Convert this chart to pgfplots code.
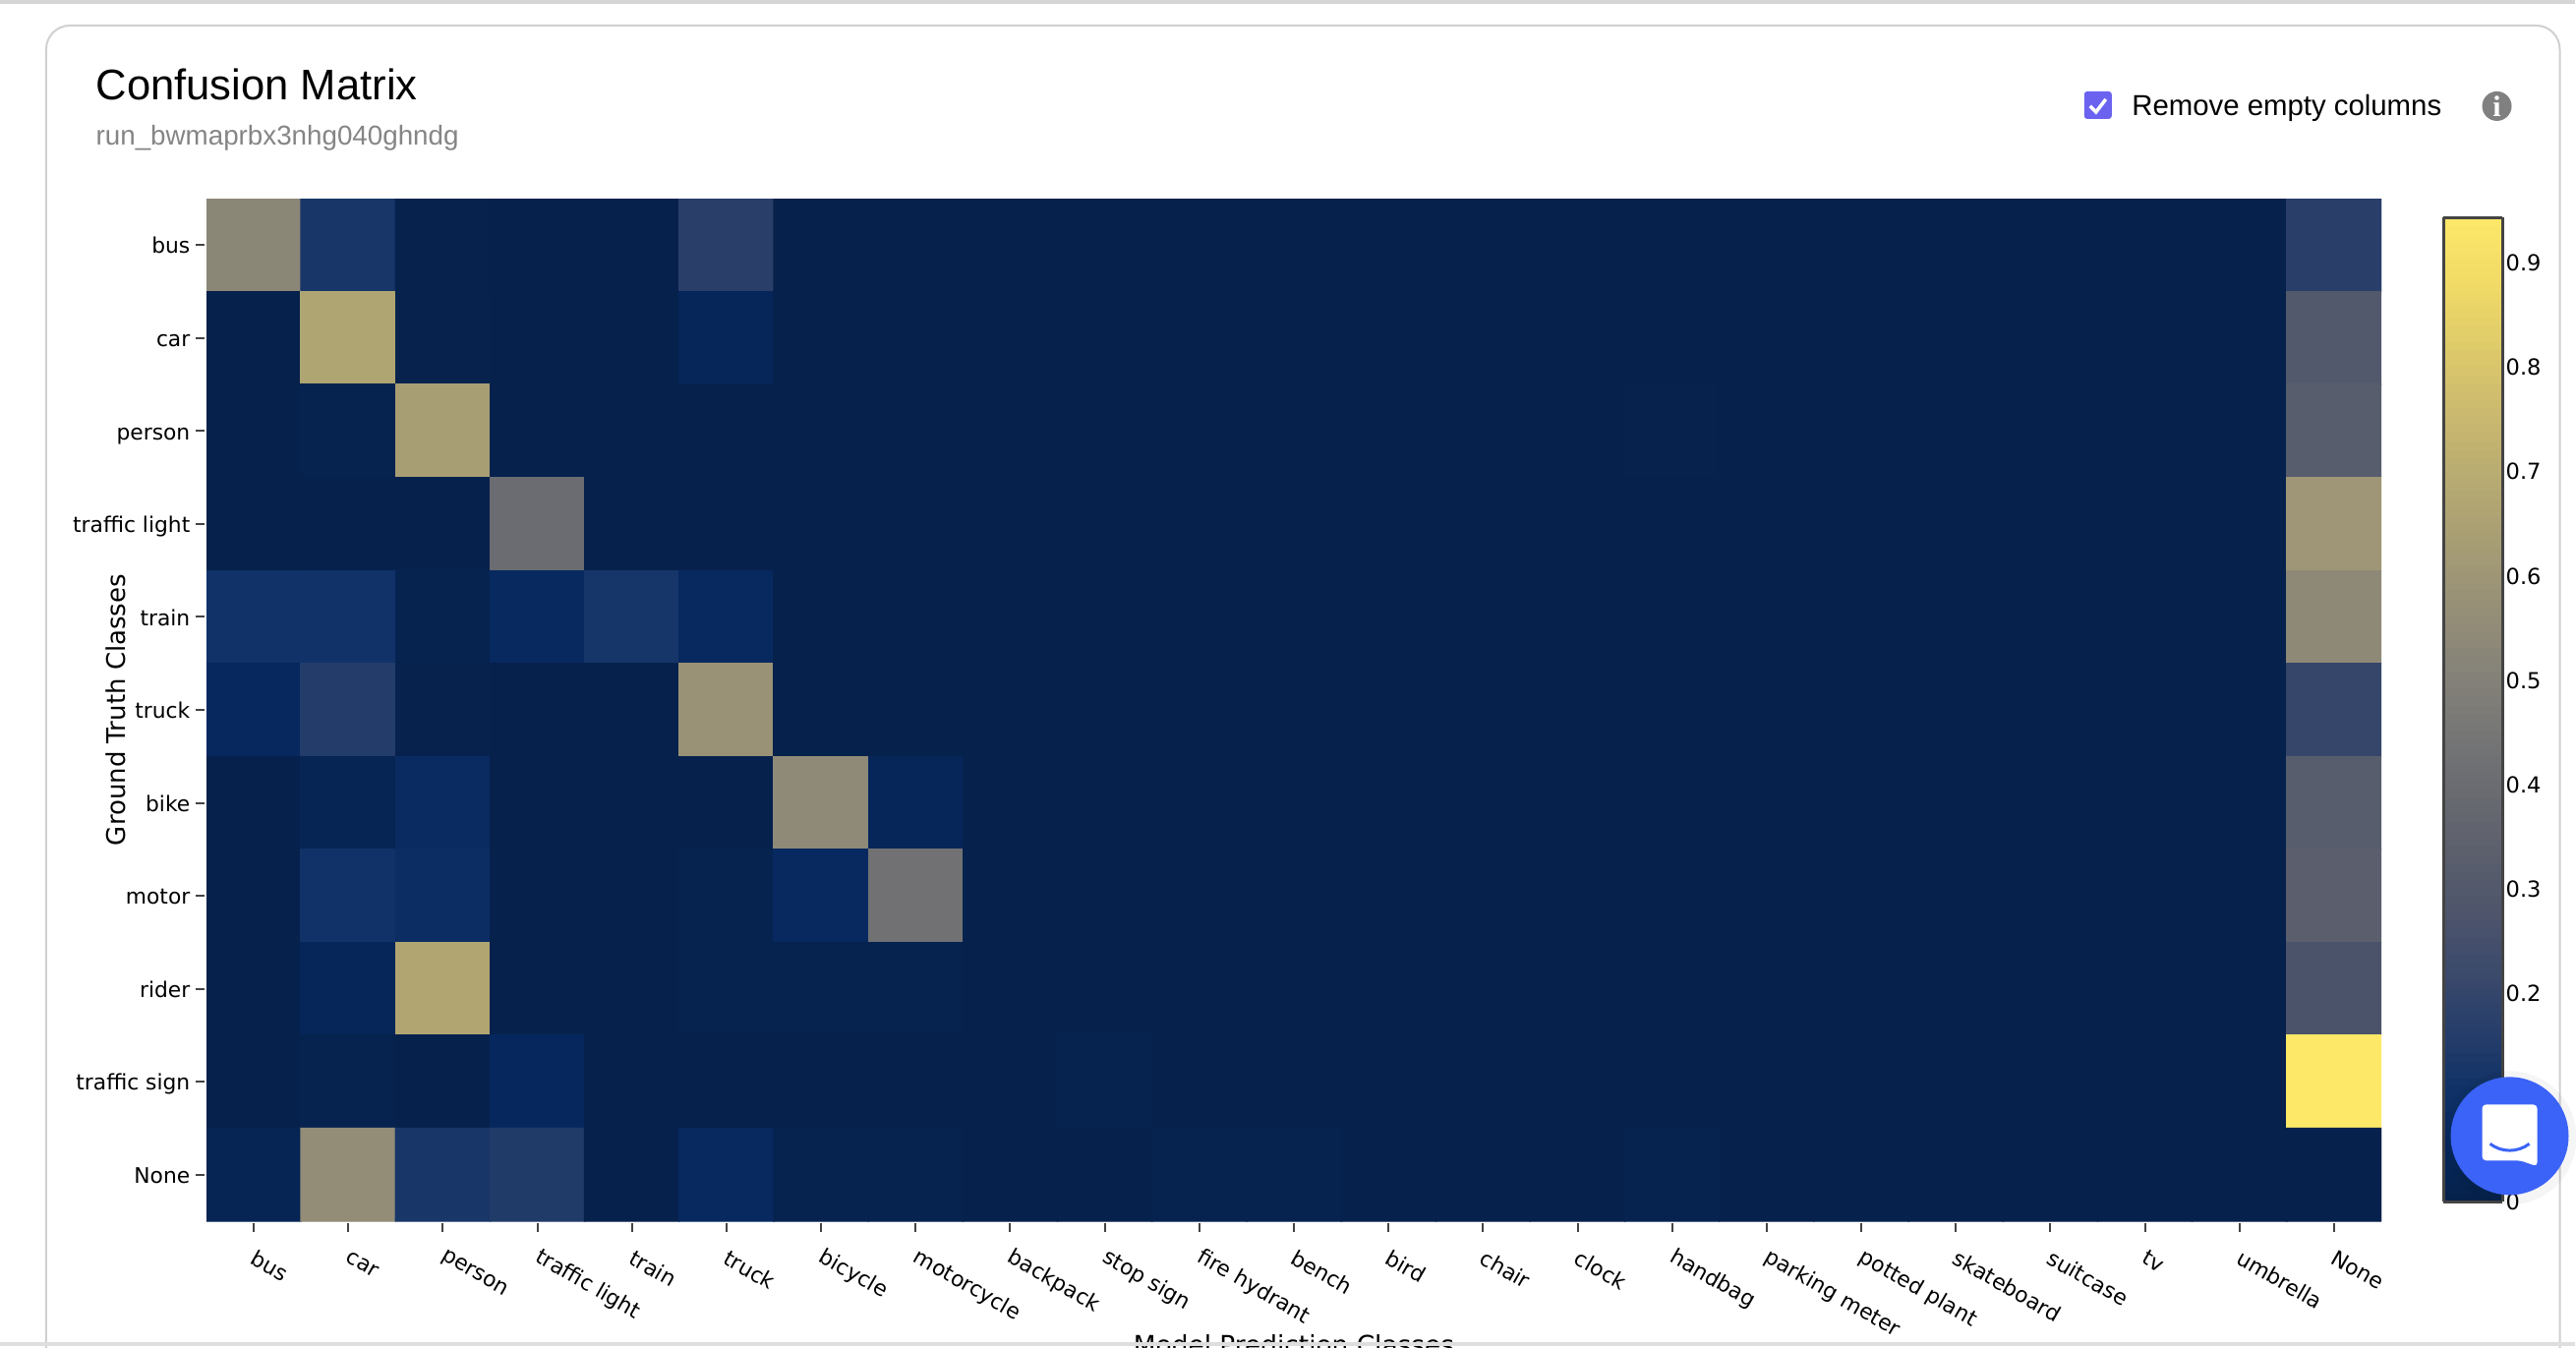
\documentclass[border=0pt]{standalone}
\usepackage{fontspec}
\setmainfont{Liberation Sans}
\newfontfamily\plotfont{DejaVu Sans}
\newfontfamily\iconfont{Liberation Serif}
\usepackage{pgfplots}
\pgfplotsset{compat=1.18}

\definecolor{cardline}{HTML}{D0D0D0}
\definecolor{subgrey}{HTML}{858585}
\definecolor{tickgrey}{HTML}{444444}
\definecolor{checkblue}{HTML}{6B63F0}
\definecolor{chatblue}{HTML}{3B63F7}

\pgfplotsset{
  colormap={confusion}{
    rgb255(0)=(6,33,75)
    rgb255(55)=(6,40,95)
    rgb255(110)=(16,50,104)
    rgb255(166)=(40,62,106)
    rgb255(222)=(60,74,107)
    rgb255(278)=(78,85,107)
    rgb255(333)=(91,95,109)
    rgb255(389)=(104,106,112)
    rgb255(444)=(117,117,117)
    rgb255(500)=(131,129,120)
    rgb255(555)=(146,140,119)
    rgb255(611)=(161,152,118)
    rgb255(667)=(176,165,114)
    rgb255(722)=(192,177,112)
    rgb255(777)=(209,190,110)
    rgb255(833)=(226,206,105)
    rgb255(889)=(243,220,102)
    rgb255(944)=(253,232,104)
  }
}

\begin{document}
\begin{tikzpicture}
\path[use as bounding box,clip] (0,0) rectangle (26.2,-13.7);
\fill[white] (0,0) rectangle (26.2,-13.7);

\begin{scope}[x=0.01cm,y=-0.01cm]
  \draw[cardline,line width=0.02cm,rounded corners=0.24cm] (47,1400) -- (47,26) -- (2605,26) -- (2605,1400);
  \node[anchor=base west,inner sep=0,font=\fontsize{12.4}{14}\selectfont] at (97,102) {Confusion Matrix};
  \node[anchor=base west,inner sep=0,text=subgrey,font=\fontsize{7.9}{10}\selectfont] at (97,148) {run\_bwmaprbx3nhg040ghndg};
  \fill[checkblue,rounded corners=0.03cm] (2121,93) rectangle (2149,121);
  \draw[white,line width=0.035cm] (2127,108) -- (2133,114) -- (2143,101);
  \node[anchor=base west,inner sep=0,font=\fontsize{8.35}{10}\selectfont] at (2169,118) {Remove empty columns};
  \fill[gray] (2541,108) circle (15);
  \node[text=white,inner sep=0,font=\iconfont\bfseries\fontsize{8.5}{10}\selectfont] at (2541,108) {i};
\end{scope}

\begin{axis}[
  at={(2.10cm,-12.42cm)},
  anchor=south west,
  scale only axis,
  width=22.12cm,
  height=10.40cm,
  xmin=-0.5,xmax=22.5,
  ymin=-0.5,ymax=10.5,
  y dir=reverse,
  axis line style={draw=none},
  tick align=outside,
  xtick pos=bottom,
  ytick pos=left,
  major tick length=0.09cm,
  x tick style={draw=tickgrey,line width=0.02cm,yshift=-0.02cm},
  y tick style={draw=tickgrey,line width=0.02cm,xshift=-0.02cm},
  xtick={0,...,22},
  ytick={0,...,10},
  xticklabels={bus,car,person,traffic light,train,truck,bicycle,motorcycle,backpack,stop sign,fire hydrant,bench,bird,chair,clock,handbag,parking meter,potted plant,skateboard,suitcase,tv,umbrella,None},
  yticklabels={bus,car,person,traffic light,train,truck,bike,motor,rider,traffic sign,None},
  tick label style={font=\plotfont\fontsize{6.2}{8}\selectfont,text=black},
  x tick label style={rotate=-30,anchor=west,inner sep=0,yshift=-0.23cm,xshift=0.12cm},
  y tick label style={inner sep=0,xshift=-0.07cm,yshift=0.03cm,text height=1.5ex,text depth=0.25ex},
  xlabel={Model Prediction Classes},
  ylabel={Ground Truth Classes},
  xlabel style={at={(axis description cs:0.5,-0.121)},anchor=center,font=\plotfont\fontsize{7.5}{9}\selectfont},
  ylabel style={at={(axis description cs:-0.0416,0.5)},anchor=center,rotate=0,font=\plotfont\fontsize{7.4}{9}\selectfont},
  colormap name=confusion,
  point meta min=0,
  point meta max=0.944,
  colorbar sampled,
  colorbar style={
    samples=120,
    at={(parent axis.south east)},
    anchor=south west,
    xshift=0.33cm,
    yshift=0.20cm,
    scale only axis,
    width=0.60cm,
    height=10.01cm,
    ytick={0,0.1,0.2,0.3,0.4,0.5,0.6,0.7,0.8,0.9},
    yticklabels={0,0.1,0.2,0.3,0.4,0.5,0.6,0.7,0.8,0.9},
    yticklabel pos=right,
    major tick length=0pt,
    axis line style={draw=tickgrey,line width=0.03cm},
    y tick label style={font=\plotfont\fontsize{6.4}{8}\selectfont,inner sep=0,xshift=0.03cm},
    y tick style={draw=none},
    xtick=\empty,
  },
]
\addplot[matrix plot*,mesh/cols=23,point meta=explicit] coordinates {
(0,0)[.53] (1,0)[.13] (2,0)[.005] (3,0)[.002] (4,0)[.003] (5,0)[.17] (6,0)[0] (7,0)[0] (8,0)[0] (9,0)[0] (10,0)[0] (11,0)[0] (12,0)[0] (13,0)[0] (14,0)[0] (15,0)[0] (16,0)[0] (17,0)[0] (18,0)[0] (19,0)[0] (20,0)[0] (21,0)[0] (22,0)[.17]

(0,1)[0] (1,1)[.665] (2,1)[.005] (3,1)[.002] (4,1)[.001] (5,1)[.04] (6,1)[0] (7,1)[0] (8,1)[0] (9,1)[0] (10,1)[0] (11,1)[0] (12,1)[0] (13,1)[0] (14,1)[0] (15,1)[0] (16,1)[0] (17,1)[0] (18,1)[0] (19,1)[0] (20,1)[0] (21,1)[0] (22,1)[.30]

(0,2)[0] (1,2)[.012] (2,2)[.635] (3,2)[.002] (4,2)[.001] (5,2)[.001] (6,2)[0] (7,2)[0] (8,2)[.004] (9,2)[0] (10,2)[0] (11,2)[0] (12,2)[0] (13,2)[0] (14,2)[0] (15,2)[.005] (16,2)[0] (17,2)[0] (18,2)[0] (19,2)[0] (20,2)[0] (21,2)[0] (22,2)[.32]

(0,3)[0] (1,3)[.002] (2,3)[.001] (3,3)[.40] (4,3)[.002] (5,3)[.002] (6,3)[0] (7,3)[0] (8,3)[0] (9,3)[0] (10,3)[0] (11,3)[0] (12,3)[0] (13,3)[0] (14,3)[0] (15,3)[0] (16,3)[0] (17,3)[0] (18,3)[0] (19,3)[0] (20,3)[0] (21,3)[0] (22,3)[.60]

(0,4)[.11] (1,4)[.11] (2,4)[.015] (3,4)[.06] (4,4)[.125] (5,4)[.06] (6,4)[0] (7,4)[0] (8,4)[0] (9,4)[0] (10,4)[0] (11,4)[0] (12,4)[0] (13,4)[0] (14,4)[0] (15,4)[0] (16,4)[0] (17,4)[0] (18,4)[0] (19,4)[0] (20,4)[0] (21,4)[0] (22,4)[.54]

(0,5)[.055] (1,5)[.155] (2,5)[.005] (3,5)[.002] (4,5)[.002] (5,5)[.585] (6,5)[0] (7,5)[0] (8,5)[0] (9,5)[0] (10,5)[0] (11,5)[0] (12,5)[0] (13,5)[0] (14,5)[0] (15,5)[0] (16,5)[0] (17,5)[0] (18,5)[0] (19,5)[0] (20,5)[0] (21,5)[0] (22,5)[.205]

(0,6)[0] (1,6)[.025] (2,6)[.07] (3,6)[.004] (4,6)[.004] (5,6)[.002] (6,6)[.545] (7,6)[.04] (8,6)[.002] (9,6)[0] (10,6)[0] (11,6)[0] (12,6)[0] (13,6)[0] (14,6)[0] (15,6)[0] (16,6)[0] (17,6)[0] (18,6)[0] (19,6)[0] (20,6)[0] (21,6)[0] (22,6)[.32]

(0,7)[0] (1,7)[.11] (2,7)[.085] (3,7)[.004] (4,7)[.004] (5,7)[.012] (6,7)[.06] (7,7)[.425] (8,7)[.002] (9,7)[0] (10,7)[0] (11,7)[0] (12,7)[0] (13,7)[0] (14,7)[0] (15,7)[0] (16,7)[0] (17,7)[0] (18,7)[0] (19,7)[0] (20,7)[0] (21,7)[0] (22,7)[.33]

(0,8)[0] (1,8)[.035] (2,8)[.67] (3,8)[.004] (4,8)[.004] (5,8)[.008] (6,8)[.01] (7,8)[.01] (8,8)[.002] (9,8)[0] (10,8)[0] (11,8)[0] (12,8)[0] (13,8)[0] (14,8)[0] (15,8)[0] (16,8)[0] (17,8)[0] (18,8)[0] (19,8)[0] (20,8)[0] (21,8)[0] (22,8)[.27]

(0,9)[.002] (1,9)[.008] (2,9)[.002] (3,9)[.05] (4,9)[.002] (5,9)[.002] (6,9)[.002] (7,9)[.002] (8,9)[.002] (9,9)[.012] (10,9)[0] (11,9)[0] (12,9)[0] (13,9)[0] (14,9)[0] (15,9)[0] (16,9)[0] (17,9)[0] (18,9)[0] (19,9)[0] (20,9)[0] (21,9)[0] (22,9)[.944]

(0,10)[.025] (1,10)[.56] (2,10)[.13] (3,10)[.15] (4,10)[.003] (5,10)[.06] (6,10)[.012] (7,10)[.008] (8,10)[.003] (9,10)[.003] (10,10)[.014] (11,10)[.014] (12,10)[.002] (13,10)[.002] (14,10)[.002] (15,10)[.012] (16,10)[.002] (17,10)[.004] (18,10)[.001] (19,10)[0] (20,10)[0] (21,10)[0] (22,10)[0]
};
\end{axis}

\begin{scope}[x=0.01cm,y=-0.01cm]
  % chat button over the colour bar
  \fill[black,opacity=0.04] (2554,1158) circle (68);
  \fill[chatblue] (2554,1156) circle (60);
  \fill[white,rounded corners=0.04cm] (2526,1124) -- (2582,1124) -- (2582,1170) -- (2582,1187) -- (2565,1181) -- (2526,1181) -- cycle;
  \draw[chatblue,line width=0.03cm] (2534,1164) .. controls (2546,1173) and (2562,1173) .. (2574,1164);
  % bottom edge of the screenshot
  \fill[cardline!70] (0,1366) rectangle (2620,1370);
  \fill[cardline!90] (0,0) rectangle (2620,4);
\end{scope}
\end{tikzpicture}
\end{document}
